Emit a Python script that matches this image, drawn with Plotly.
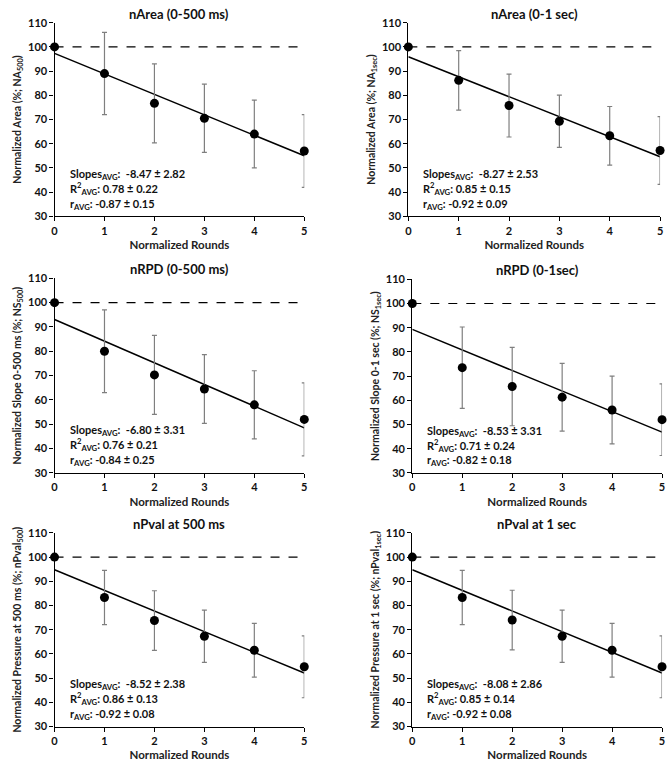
import numpy as np
import plotly.graph_objects as go

rounds = [0, 1, 2, 3, 4, 5]

titles = ["nArea (0-500 ms)", "nArea (0-1 sec)", "nRPD (0-500 ms)",
          "nRPD (0-1sec)", "nPval at 500 ms", "nPval at 1 sec"]
ytitles = ["Normalized Area (%; NA<sub>500</sub>)",
           "Normalized Area (%; NA<sub>1sec</sub>)",
           "Normalized Slope 0-500 ms (%; NS<sub>500</sub>)",
           "Normalized Slope 0-1 sec (%; NS<sub>1sec</sub>)",
           "Normalized Pressure at 500 ms (%; nPval<sub>500</sub>)",
           "Normalized Pressure at 1 sec (%; nPval<sub>1sec</sub>)"]

means_area500 = [100, 89.0, 76.7, 70.5, 64.0, 57.0]
err_area500 = [0, 17.0, 16.3, 14.1, 14.0, 15.0]
means_area1s = [100, 86.2, 75.8, 69.3, 63.3, 57.2]
err_area1s = [0, 12.3, 13.0, 10.8, 12.1, 14.0]
means_rpd500 = [100, 80.0, 70.3, 64.5, 58.0, 52.0]
err_rpd500 = [0, 17.0, 16.2, 14.1, 14.0, 15.0]
means_rpd1s = [100, 73.5, 65.7, 61.3, 56.0, 52.0]
err_rpd1s = [0, 16.8, 16.2, 14.0, 14.0, 14.8]
means_pval500 = [100, 83.3, 73.8, 67.3, 61.5, 54.7]
err_pval500 = [0, 11.2, 12.3, 10.8, 11.1, 12.8]
means_pval1s = [100, 83.3, 74.0, 67.3, 61.5, 54.7]
err_pval1s = [0, 11.2, 12.3, 10.8, 11.1, 12.8]

slopes_txt = ["-8.47 ± 2.82", "-8.27 ± 2.53", "-6.80 ± 3.31",
              "-8.53 ± 3.31", "-8.52 ± 2.38", "-8.08 ± 2.86"]
r2_txt = ["0.78 ± 0.22", "0.85 ± 0.15", "0.76 ± 0.21",
          "0.71 ± 0.24", "0.86 ± 0.13", "0.85 ± 0.14"]
r_txt = ["-0.87 ± 0.15", "-0.92 ± 0.09", "-0.84 ± 0.25",
         "-0.82 ± 0.18", "-0.92 ± 0.08", "-0.92 ± 0.08"]

means = [means_area500, means_area1s, means_rpd500, means_rpd1s, means_pval500, means_pval1s]
errs = [err_area500, err_area1s, err_rpd500, err_rpd1s, err_pval500, err_pval1s]

W, H = 670, 764
# pixel boxes (left, right, top, bottom)
boxes = [(52, 304, 16, 213), (409, 663, 16, 213),
         (52, 304, 276, 474), (413, 665, 277, 474),
         (52, 304, 535, 732), (413, 665, 535, 732)]

FONT = "Lato"
fig = go.Figure()
layout = {}
annotations = []
shapes = []

for i in range(6):
    n = i + 1
    sx = "" if n == 1 else str(n)
    xa, ya = "x" + sx, "y" + sx
    l, r, t, b = boxes[i]
    xd = [l / W, r / W]
    yd = [1 - b / H, 1 - t / H]

    x = np.array(rounds, dtype=float)
    y = np.array(means[i], dtype=float)
    k, c = np.polyfit(x, y, 1)
    fit = k * x + c

    fig.add_trace(go.Scatter(x=x, y=fit, mode="lines", line=dict(color="black", width=1.5),
                             xaxis=xa, yaxis=ya, showlegend=False, hoverinfo="skip",
                             cliponaxis=False))
    e = errs[i]
    fig.add_trace(go.Scatter(x=x[1:], y=y[1:], mode="markers",
                             marker=dict(color="black", size=9),
                             error_y=dict(type="data", array=e[1:], visible=True,
                                          color="#7f7f7f", thickness=1.2, width=2.5),
                             xaxis=xa, yaxis=ya, showlegend=False, cliponaxis=False))
    fig.add_trace(go.Scatter(x=x[:1], y=y[:1], mode="markers",
                             marker=dict(color="black", size=9),
                             xaxis=xa, yaxis=ya, showlegend=False, cliponaxis=False))

    layout["xaxis" + sx] = dict(domain=xd, anchor=ya, range=[0, 5], tickvals=rounds,
                                showline=True, linecolor="black", linewidth=1.2,
                                ticks="outside", ticklen=4, tickcolor="black",
                                showgrid=False, zeroline=False,
                                tickfont=dict(family=FONT, size=11, color="#111", weight="bold"),
                                title=dict(text="Normalized Rounds", standoff=5,
                                           font=dict(family=FONT, size=11.5, color="#222", weight="bold")))
    layout["yaxis" + sx] = dict(domain=yd, anchor=xa, range=[30, 110], dtick=10,
                                showline=True, linecolor="black", linewidth=1.2,
                                ticks="outside", ticklen=4, tickcolor="black",
                                showgrid=False, zeroline=False,
                                tickfont=dict(family=FONT, size=11, color="#111", weight="bold"),
                                title=dict(text=ytitles[i], standoff=4,
                                           font=dict(family=FONT, size=10.5, color="#222", weight="bold")))

    shapes.append(dict(type="line", xref=xa + " domain", yref=ya, x0=0, x1=1, y0=100, y1=100,
                       line=dict(color="black", width=1.2, dash="dash")))

    annotations.append(dict(text=titles[i], xref=xa + " domain", yref=ya + " domain",
                            x=0.5, y=1.0, yshift=9, xanchor="center", yanchor="middle",
                            showarrow=False,
                            font=dict(family=FONT, size=13, color="#111", weight="bold")))
    stats = ["Slopes<sub>AVG</sub>:  " + slopes_txt[i],
             "R<sup>2</sup><sub>AVG</sub>: " + r2_txt[i],
             "r<sub>AVG</sub>: " + r_txt[i]]
    for j, (txt, yy) in enumerate(zip(stats, [47.3, 41.5, 35.0])):
        annotations.append(dict(text=txt, xref=xa + " domain", yref=ya, x=0.052, y=yy,
                                xanchor="left", yanchor="middle", showarrow=False,
                                font=dict(family=FONT, size=11, color="#111", weight="bold")))

fig.update_layout(**layout)
fig.update_layout(width=W, height=H, margin=dict(l=0, r=0, t=0, b=0),
                  paper_bgcolor="white", plot_bgcolor="white",
                  annotations=annotations, shapes=shapes, showlegend=False)
fig.write_html("out.html", config={"displayModeBar": False},
               post_script="document.body.style.margin='0';document.body.style.padding='0';"
                           "document.body.style.overflow='hidden';")
